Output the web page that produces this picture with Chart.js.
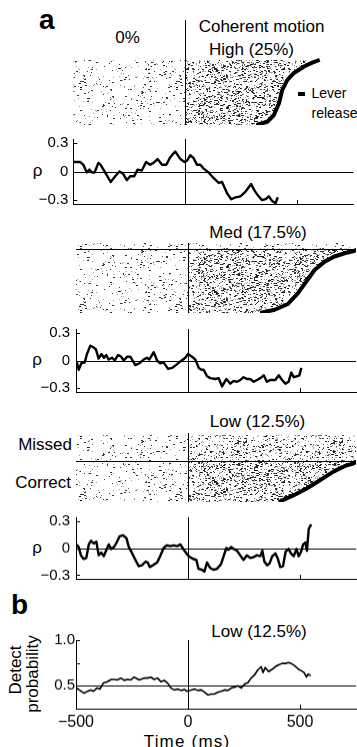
<!DOCTYPE html>
<html>
<head>
<meta charset="utf-8">
<script src="https://cdn.jsdelivr.net/npm/chart.js@4.4.1/dist/chart.umd.min.js"></script>
<style>
  html,body{margin:0;padding:0;background:#fff}
  #fig{position:relative;width:357px;height:747px;overflow:hidden;font-family:'Liberation Sans',Arial,Helvetica,sans-serif;color:#000}
  #fig canvas{position:absolute;left:0}
  .t{position:absolute;white-space:nowrap;line-height:1;font-size:17px}
  .c{transform:translateX(-50%)}
  .rot{transform:translate(-50%,-50%) rotate(-90deg)}
</style>
</head>
<body>
<div id="fig">
  <div class="t" style="left:39px;top:6px;font-size:28px;font-weight:bold">a</div>
  <div class="t c" style="left:127.5px;top:28.7px">0%</div>
  <div class="t c" style="left:261.5px;top:18.2px">Coherent motion</div>
  <div class="t c" style="left:251.5px;top:40.7px">High (25%)</div>
  <div style="position:absolute;left:298px;top:92px;width:7px;height:4px;background:#000"></div>
  <div class="t" style="left:311.5px;top:86.1px;font-size:14px">Lever</div>
  <div class="t" style="left:311.5px;top:106.1px;font-size:14px">release</div>
  <div class="t c" style="left:37.5px;top:162px">ρ</div>
  <div class="t c" style="left:258px;top:224.2px">Med (17.5%)</div>
  <div class="t c" style="left:37px;top:351px">ρ</div>
  <div class="t c" style="left:257.5px;top:412.7px">Low (12.5%)</div>
  <div class="t" style="right:285px;top:435.7px">Missed</div>
  <div class="t" style="right:286px;top:474.2px">Correct</div>
  <div class="t c" style="left:37px;top:538.5px">ρ</div>
  <div class="t" style="left:11px;top:591.3px;font-size:28px;font-weight:bold">b</div>
  <div class="t c" style="left:259px;top:623.2px">Low (12.5%)</div>
  <div class="t rot" style="left:15px;top:670px">Detect</div>
  <div class="t rot" style="left:31.5px;top:674px">probability</div>
  <div class="t c" style="left:187px;top:732.7px;letter-spacing:1.2px">Time (ms)</div>
</div>
<script>
// ---- data ----
// rho vs time, high coherence (25%)
const timeHigh=[-500,-470,-455,-440,-428,-416,-405,-388,-378,-358,-333,-313,-294,-279,-261,-246,-228,-213,-194,-175,-157,-142,-124,-104,-85,-67,-45,-22,-4,7,22,37,52,67,82,104,127,149,164,187,205,224,246,269,294,309,324,343,358,373,388,403,413];
const rhoHigh=[0.10,0.10,0.07,-0.01,0.02,-0.01,-0.01,0.09,0.07,-0.01,-0.11,-0.05,0.00,-0.02,-0.09,-0.05,-0.05,0.02,0.01,0.10,0.07,0.09,0.13,0.07,0.07,0.15,0.21,0.13,0.10,0.11,0.17,0.14,0.07,0.07,0.03,-0.01,-0.07,-0.12,-0.11,-0.23,-0.29,-0.27,-0.26,-0.21,-0.13,-0.20,-0.25,-0.30,-0.29,-0.26,-0.31,-0.33,-0.27];
// medium coherence (17.5%)
const timeMed=[-496,-488,-476,-461,-451,-436,-421,-411,-399,-387,-375,-365,-354,-339,-327,-312,-298,-287,-272,-257,-235,-217,-198,-183,-173,-153,-138,-124,-109,-89,-71,-54,-34,-12,0,18,33,48,60,70,85,100,122,137,152,171,189,204,219,234,248,263,278,293,308,323,338,352,367,378,390,405,420,435,449,461,472,487,497,506];
const rhoMed=[-0.02,-0.10,-0.03,-0.02,0.07,0.16,0.14,0.12,0.02,0.07,0.03,0.06,0.01,0.03,0.00,0.06,0.04,0.00,0.04,0.04,-0.05,-0.03,0.01,0.03,0.01,0.09,0.00,-0.03,-0.02,-0.09,-0.08,-0.05,-0.01,0.03,0.07,0.04,0.01,-0.08,-0.10,-0.10,-0.17,-0.19,-0.20,-0.19,-0.28,-0.20,-0.25,-0.22,-0.23,-0.21,-0.18,-0.20,-0.20,-0.23,-0.21,-0.19,-0.16,-0.23,-0.21,-0.21,-0.21,-0.16,-0.21,-0.25,-0.23,-0.13,-0.18,-0.17,-0.16,-0.08];
// low coherence (12.5%)
const timeLow=[-499,-488,-478,-466,-454,-443,-433,-421,-409,-399,-388,-376,-364,-354,-343,-331,-321,-305,-290,-275,-264,-249,-235,-220,-205,-190,-180,-171,-156,-138,-124,-109,-94,-79,-64,-49,-34,-16,3,22,37,47,62,73,85,99,114,129,147,159,171,181,192,204,219,233,248,263,278,293,308,323,332,341,353,364,376,390,400,412,424,436,449,460,472,484,494,505,514,524,531,539,550];
const rhoLow=[0.04,0.01,-0.08,-0.12,-0.11,0.04,0.08,0.05,0.07,-0.08,-0.05,-0.09,-0.02,0.04,-0.01,0.01,0.05,0.13,0.14,0.11,0.01,-0.06,-0.13,-0.20,-0.19,-0.15,-0.16,-0.21,-0.19,-0.16,-0.09,0.00,0.03,0.02,0.03,0.02,0.04,-0.03,-0.09,-0.12,-0.13,-0.23,-0.24,-0.26,-0.16,-0.22,-0.24,-0.23,-0.18,-0.09,0.00,-0.02,0.01,-0.01,-0.03,-0.08,-0.13,-0.08,-0.11,-0.10,-0.08,-0.09,-0.03,-0.15,-0.19,-0.17,-0.09,-0.06,-0.11,-0.21,-0.20,-0.04,-0.01,-0.06,-0.09,-0.01,-0.09,-0.04,0.04,0.06,-0.03,0.21,0.26];
// detect probability, low coherence
const timeDP=[-497,-482,-464,-449,-434,-422,-407,-393,-378,-360,-342,-330,-315,-300,-285,-270,-255,-240,-218,-196,-181,-166,-151,-136,-121,-106,-91,-76,-61,-46,-31,-16,-4,14,29,44,59,74,89,104,118,133,148,163,178,193,208,223,238,253,267,282,297,312,327,335,345,360,375,390,405,420,435,449,464,479,494,506,518,529,536,548];
const detectProb=[0.475,0.45,0.42,0.44,0.455,0.44,0.475,0.465,0.53,0.545,0.57,0.57,0.565,0.585,0.56,0.57,0.565,0.595,0.565,0.585,0.585,0.595,0.57,0.585,0.545,0.56,0.53,0.475,0.455,0.465,0.45,0.46,0.44,0.455,0.465,0.45,0.455,0.43,0.40,0.41,0.41,0.43,0.44,0.455,0.45,0.475,0.485,0.50,0.475,0.52,0.535,0.585,0.62,0.675,0.71,0.645,0.70,0.655,0.68,0.71,0.73,0.745,0.745,0.755,0.74,0.715,0.68,0.665,0.645,0.595,0.63,0.61];
// lever release time per sorted trial (trial rank in % of correct trials)
const highReleaseTime=[318,366,395,418,433,455,485,530,567,600];
const highReleaseTrial=[0,5,15,33,54,69,80,90,96,100];
const medReleaseTime=[322,387,446,491,528,565,610,654,699,744,760];
const medReleaseTrial=[0,5,14,31,49,67,80,88,93,97,100];
const lowReleaseTime=[405,470,530,589,649,701,738,760];
const lowReleaseTrial=[0,16,33,53,74,88,94,100];
// missed-trial rows stacked above the correct trials
const medMissedRows=[100,109];
const lowMissedRows=[100,163];
// axis ticks
const timeTicks=[-500,0,500];
const rhoTicks=[-0.3,0,0.3];
const dpTicks=[0.5,1.0];
const dpInnerTicks=[0.5,0.75,1.0];

// ---- drawing ----
const X_MIN=-500,X_MAX=750,AREA_W=280,W=357;
const FONT="'Liberation Sans', Arial, sans-serif";
const fig=document.getElementById('fig');
const pts=(xs,ys)=>xs.map((x,i)=>({x,y:ys[i]}));
const fmtY=v=>v===0?'0':(v<0?'\u2212':'')+Math.abs(v).toFixed(1);
const fmtX=v=>(v<0?'\u2212':'')+Math.abs(v);

function addCanvas(top,h){
  const c=document.createElement('canvas');
  c.width=W;c.height=h;c.style.top=top+'px';c.style.width=W+'px';c.style.height=h+'px';
  fig.appendChild(c);return c;
}
// spike-raster texture: a fixed seeded tile of ticks (fill style only, not data)
function seq(a){return()=>{a|=0;a=a+0x6D2B79F5|0;let t=Math.imul(a^a>>>15,1|a);t=t+Math.imul(t^t>>>7,61|t)^t;return((t^t>>>14)>>>0)/4294967296}}
function stipple(cover,seed){
  const w=96,h=64,n=Math.round(cover*w*h),next=seq(seed);
  const c=document.createElement('canvas');c.width=w;c.height=h;
  const g=c.getContext('2d');
  for(let i=0;i<n;i++){
    const x=Math.floor(next()*w),y=Math.floor(next()*h),k=next();
    g.fillStyle=k<0.55?'rgba(0,0,0,.8)':'rgba(0,0,0,.4)';
    g.fillRect(x,y,k<0.3?2:1,1);
  }
  return g.createPattern(c,'repeat');
}
const SPARSE=stipple(0.05,7),MEDIUM=stipple(0.10,31),DENSE=stipple(0.18,97);

const refs={id:'refs',afterDatasetsDraw(ch,a,o){
  const {ctx,chartArea:ca,scales:{x,y}}=ch;
  ctx.save();ctx.strokeStyle='#000';ctx.lineWidth=1;ctx.beginPath();
  (o.h||[]).forEach(v=>{const p=Math.round(y.getPixelForValue(v))+.5;ctx.moveTo(ca.left,p);ctx.lineTo(ca.right,p)});
  (o.v||[]).forEach(v=>{const p=Math.round(x.getPixelForValue(v))+.5;ctx.moveTo(p,ca.top);ctx.lineTo(p,ca.bottom)});
  (o.tx||[]).forEach(v=>{const p=Math.round(x.getPixelForValue(v))+.5;ctx.moveTo(p,ca.bottom);ctx.lineTo(p,ca.bottom-4)});
  (o.ty||[]).forEach(v=>{const p=Math.round(y.getPixelForValue(v))+.5;ctx.moveTo(ca.left,p);ctx.lineTo(ca.left+4,p)});
  ctx.stroke();ctx.restore();
}};

function linePanel(p){
  const padT=12,padB=p.xLabels?40:12;
  const cv=addCanvas(p.top-padT,p.bottom-p.top+padT+padB);
  return new Chart(cv,{
    type:'line',
    data:{datasets:[{data:pts(p.t,p.v),borderColor:'#000',borderWidth:p.lw,pointRadius:0,tension:0,fill:false,borderJoinStyle:'round'}]},
    options:{
      responsive:false,animation:false,events:[],
      layout:{padding:{left:0,right:W-(p.left+AREA_W),top:padT,bottom:p.xLabels?0:padB}},
      plugins:{legend:{display:false},tooltip:{enabled:false},refs:{h:[p.href],v:[0],tx:timeTicks,ty:p.inner}},
      scales:{
        x:{type:'linear',min:X_MIN,max:X_MAX,border:{display:true,color:'#000',width:1},grid:{display:false,drawTicks:false},
           ticks:{display:!!p.xLabels,color:'#000',font:{family:FONT,size:16},padding:4,maxRotation:0,callback:fmtX},
           afterBuildTicks:s=>{s.ticks=timeTicks.map(v=>({value:v}))},
           afterFit:s=>{s.height=p.xLabels?padB:0}},
        y:{min:p.yMin,max:p.yMax,border:{display:true,color:'#000',width:1},grid:{display:false,drawTicks:false},
           ticks:{color:'#000',font:{family:FONT,size:15},padding:p.tickPad,callback:fmtY},
           afterBuildTicks:s=>{s.ticks=p.ticks.map(v=>({value:v}))},
           afterFit:s=>{s.width=p.left}}
      }
    },
    plugins:[refs]
  });
}

function poly(data,bg){return {data,borderColor:'rgba(0,0,0,0)',borderWidth:0,pointRadius:0,fill:'shape',backgroundColor:bg}}
function band(x0,x1,rows,bg){return poly([{x:x0,y:rows[0]},{x:x1,y:rows[0]},{x:x1,y:rows[1]},{x:x0,y:rows[1]}],bg)}

function rasterPanel(p){
  const pad=3;
  const cv=addCanvas(p.top-pad,p.bottom-p.top+2*pad);
  const rel=pts(p.relT,p.relY),last=p.relY[p.relY.length-1];
  const datasets=[
    {data:rel,borderColor:'#000',borderWidth:4,pointRadius:0,tension:0,fill:false,borderJoinStyle:'round'},
    poly([{x:0,y:0},...rel,{x:0,y:last}],DENSE),
    poly([{x:X_MIN,y:0},...rel,{x:X_MIN,y:last}],SPARSE),
    ...(p.bands||[])
  ];
  return new Chart(cv,{
    type:'line',data:{datasets},
    options:{
      responsive:false,animation:false,events:[],
      layout:{padding:{left:p.left,right:W-(p.left+AREA_W),top:pad,bottom:pad}},
      plugins:{legend:{display:false},tooltip:{enabled:false},refs:{h:p.split||[],v:[0]}},
      scales:{x:{type:'linear',display:false,min:X_MIN,max:X_MAX},y:{display:false,min:0,max:p.yMax}}
    },
    plugins:[refs]
  });
}

// panel a, high
rasterPanel({top:20,bottom:125,left:73.3,yMax:161.5,relT:highReleaseTime,relY:highReleaseTrial});
linePanel({top:136.7,bottom:205.7,left:73.3,yMin:-0.34,yMax:0.34,ticks:rhoTicks,inner:rhoTicks,href:0,t:timeHigh,v:rhoHigh,lw:2.4,tickPad:5});
// panel a, medium
rasterPanel({top:243,bottom:313,left:76,yMax:medMissedRows[1],relT:medReleaseTime,relY:medReleaseTrial,split:[medMissedRows[0]],
  bands:[band(X_MIN,X_MAX,medMissedRows,SPARSE)]});
linePanel({top:325.5,bottom:394.5,left:76,yMin:-0.34,yMax:0.34,ticks:rhoTicks,inner:rhoTicks,href:0,t:timeMed,v:rhoMed,lw:2.4,tickPad:6});
// panel a, low
rasterPanel({top:433,bottom:502,left:76,yMax:168.3,relT:lowReleaseTime,relY:lowReleaseTrial,split:[lowMissedRows[0]],
  bands:[band(0,X_MAX,lowMissedRows,MEDIUM),band(X_MIN,X_MAX,lowMissedRows,SPARSE)]});
linePanel({top:514,bottom:581.5,left:76,yMin:-0.34,yMax:0.34,ticks:rhoTicks,inner:rhoTicks,href:0,t:timeLow,v:rhoLow,lw:2.4,tickPad:6});
// panel b
linePanel({top:640,bottom:708.5,left:76,yMin:0.25,yMax:1.0,ticks:dpTicks,inner:dpInnerTicks,href:0.5,t:timeDP,v:detectProb,lw:1.6,tickPad:1,xLabels:true});
</script>
</body>
</html>
